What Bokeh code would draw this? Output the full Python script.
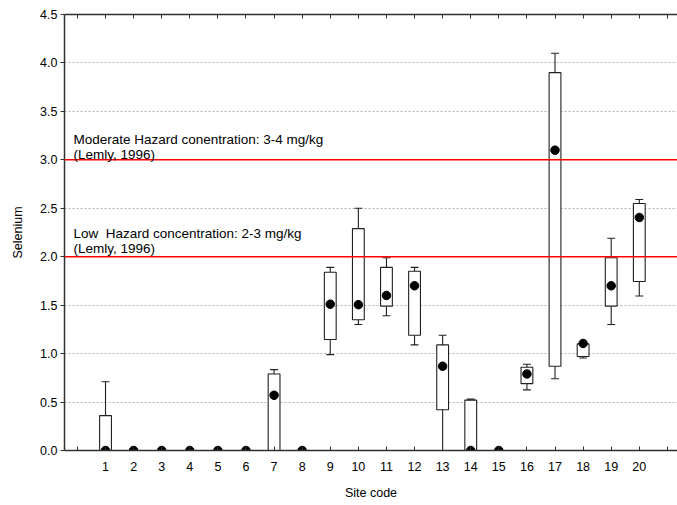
from bokeh.plotting import figure
from bokeh.models import Range1d, LinearAxis, Span, Label, FixedTicker, ColumnDataSource
from bokeh.embed import file_html
from bokeh.resources import INLINE

# site statistics
sites = list(range(1, 21))
median = [0, 0, 0, 0, 0, 0, 0.57, 0, 1.51, 1.505, 1.60, 1.70, 0.87, 0, 0, 0.79, 3.10, 1.105, 1.70, 2.405]
q1 = [0, 0, 0, 0, 0, 0, 0, 0, 1.145, 1.35, 1.49, 1.19, 0.42, 0, 0, 0.69, 0.87, 0.97, 1.49, 1.745]
q3 = [0.36, 0, 0, 0, 0, 0, 0.79, 0, 1.84, 2.29, 1.89, 1.85, 1.09, 0.52, 0, 0.86, 3.90, 1.10, 1.99, 2.55]
whisk_lo = [0, 0, 0, 0, 0, 0, 0, 0, 0.99, 1.30, 1.39, 1.09, 0, 0, 0, 0.626, 0.74, 0.955, 1.30, 1.595]
whisk_hi = [0.71, 0, 0, 0, 0, 0, 0.835, 0, 1.89, 2.50, 1.99, 1.89, 1.19, 0.53, 0, 0.89, 4.10, 1.10, 2.19, 2.59]

y_ticks = [0, 0.5, 1.0, 1.5, 2.0, 2.5, 3.0, 3.5, 4.0, 4.5]
hazard_levels = [2.0, 3.0]

FONT = "Liberation Sans"

src = ColumnDataSource(data=dict(
    x=sites, med=median, q1=q1, q3=q3, lo=whisk_lo, hi=whisk_hi,
    cl=[s - 0.14 for s in sites], cr=[s + 0.14 for s in sites],
))

p = figure(width=677, height=505, output_backend="svg", toolbar_location=None,
           x_range=Range1d(-0.46, 21.36), y_range=Range1d(0, 4.5),
           min_border_left=64, min_border_top=14, min_border_right=0,
           min_border_bottom=55)

p.xgrid.visible = False
p.ygrid.grid_line_color = "#b0b0b0"
p.ygrid.grid_line_dash = "2 2"
p.ygrid.grid_line_width = 1
p.outline_line_color = None

# hazard thresholds
for lvl in hazard_levels:
    p.add_layout(Span(location=lvl, dimension="width", line_color="#ff0000", line_width=1.5))

# whiskers and caps
p.segment(x0="x", y0="q3", x1="x", y1="hi", source=src, line_color="#202020", line_width=1.1)
p.segment(x0="x", y0="lo", x1="x", y1="q1", source=src, line_color="#202020", line_width=1.1)
p.segment(x0="cl", y0="hi", x1="cr", y1="hi", source=src, line_color="#202020", line_width=1.1)
p.segment(x0="cl", y0="lo", x1="cr", y1="lo", source=src, line_color="#202020", line_width=1.1)

# boxes
p.vbar(x="x", width=0.42, bottom="q1", top="q3", source=src,
       fill_color="white", line_color="#202020", line_width=1.1)

# medians
p.scatter(x="x", y="med", source=src, size=8.5, color="black")

texts = [
    ("Moderate Hazard conentration: 3-4 mg/kg", 3.215),
    ("(Lemly, 1996)", 3.06),
    ("Low\u00a0 Hazard concentration: 2-3 mg/kg", 2.235),
    ("(Lemly, 1996)", 2.08),
]
for t, yy in texts:
    p.add_layout(Label(x=9, x_units="screen", y=yy, text=t, text_font=FONT,
                       text_font_size="13.5px", text_color="black", text_baseline="alphabetic"))

# axes
xticks = list(range(0, 22))
overrides = {i: (str(i) if 1 <= i <= 20 else "") for i in xticks}

ax = p.xaxis[0]
ax.ticker = FixedTicker(ticks=xticks)
ax.major_label_overrides = overrides
ax.minor_tick_line_color = None
ax.major_tick_in = 4
ax.major_tick_out = 0
ax.major_label_standoff = 11
ax.axis_label = "Site code"
ax.axis_label_standoff = 12
ax.axis_label_text_font_style = "normal"

ay = p.yaxis[0]
ay.ticker = FixedTicker(ticks=y_ticks)
ay.major_label_overrides = {v: "%.1f" % v for v in y_ticks}
ay.minor_tick_line_color = None
ay.major_tick_in = 0
ay.major_tick_out = 4
ay.major_label_standoff = 3
ay.axis_label = "Selenium"
ay.axis_label_standoff = 12
ay.axis_label_text_font_style = "normal"

top = LinearAxis(ticker=FixedTicker(ticks=xticks), major_label_text_color=None,
                 major_tick_in=4, major_tick_out=0, minor_tick_line_color=None,
                 major_label_standoff=0)
p.add_layout(top, "above")

for a in (ax, ay, top):
    a.axis_line_color = "#303030"
    a.axis_line_width = 1.5
    a.major_tick_line_color = "#303030"
    a.major_tick_line_width = 1
    a.major_label_text_font = FONT
    a.major_label_text_font_size = "12.5px"
    a.axis_label_text_font = FONT
    a.axis_label_text_font_size = "12.5px"
    a.axis_label_text_color = "black"
ax.major_label_text_color = "black"
ay.major_label_text_color = "black"

open("out.html", "w").write(file_html(p, INLINE))
